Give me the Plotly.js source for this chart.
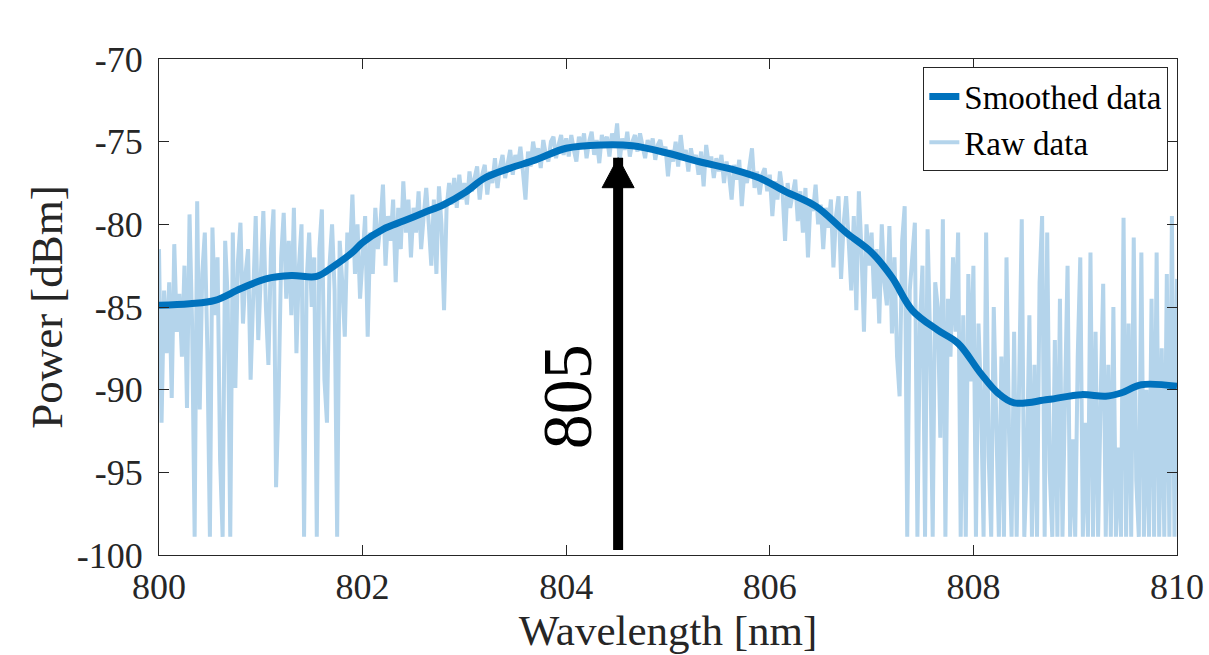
<!DOCTYPE html>
<html>
<head>
<meta charset="utf-8">
<script src="https://cdn.plot.ly/plotly-3.0.1.min.js"></script>
<style>html,body{margin:0;padding:0;background:#fff;}#chart{width:1209px;height:655px;}</style>
</head>
<body>
<div id="chart"></div>
<script>
// Raw spectrum, sampled every 0.025 nm starting at 800 nm
const rawStart = 800;
const rawStep = 0.025;
const raw800 = [-81.5,-92.0,-84.0,-87.8,-83.5,-90.5,-81.2,-86.5,-84.2,-88.0,-82.5,-91.1,-79.4,-86.0,-98.9,-78.6,-91.2,-83.0,-80.5,-87.5,-98.9,-80.2,-85.5,-82.0,-94.2,-98.9,-81.0,-84.5,-98.9,-80.5,-89.9,-82.3,-79.9,-86.0,-83.0,-81.5,-89.4,-85.0,-79.5,-87.0];
const raw801 = [-82.5,-79.2,-85.0,-88.5,-81.5,-79.1,-95.9,-90.4,-82.0,-79.3,-84.5,-81.0,-85.5,-79.0,-87.8,-82.5,-80.0,-98.9,-83.5,-80.5,-85.0,-82.0,-98.9,-81.5,-79.1,-89.4,-92.0,-82.5,-80.0,-84.0,-98.9,-81.0,-83.5,-86.8,-80.5,-82.0,-78.2,-83.0,-80.0,-84.5];
const raw802 = [-82.0,-79.5,-86.8,-80.5,-83.0,-79.0,-81.5,-80.0,-77.6,-82.5,-79.5,-81.0,-78.5,-83.5,-79.0,-81.5,-77.4,-80.5,-78.5,-82.0,-79.0,-80.5,-78.0,-81.5,-79.5,-77.8,-80.0,-82.5,-78.5,-83.0,-77.7,-80.0,-85.2,-79.0,-77.5,-78.8,-77.2,-79.0,-77.0,-78.5];
const raw803 = [-77.5,-78.8,-76.8,-78.0,-77.2,-76.5,-78.5,-77.0,-76.4,-78.2,-76.8,-77.5,-76.0,-77.8,-76.5,-75.8,-77.2,-76.2,-75.5,-77.0,-75.8,-76.5,-75.3,-76.8,-78.5,-75.6,-76.5,-75.0,-76.0,-75.4,-76.6,-74.9,-75.8,-76.2,-75.0,-74.7,-76.0,-75.2,-74.6,-75.8];
const raw804 = [-74.8,-75.9,-74.6,-75.5,-76.2,-74.7,-75.4,-74.5,-76.0,-75.0,-74.4,-75.8,-74.9,-76.3,-74.6,-75.2,-74.7,-75.9,-74.5,-75.3,-73.9,-76.2,-74.8,-75.5,-74.4,-75.9,-75.0,-74.6,-75.6,-74.5,-75.3,-76.0,-74.9,-75.5,-74.8,-76.1,-75.2,-74.9,-75.8,-75.3];
const raw805 = [-77.1,-75.5,-76.2,-75.0,-76.5,-74.6,-76.0,-75.5,-76.8,-75.4,-76.3,-75.8,-77.0,-75.6,-77.7,-75.2,-76.4,-75.9,-77.2,-76.0,-76.8,-75.8,-77.5,-76.2,-77.0,-78.5,-76.4,-77.3,-76.1,-78.9,-76.8,-77.5,-76.5,-75.4,-77.8,-76.8,-78.2,-77.0,-76.6,-78.0];
const raw806 = [-77.0,-79.5,-77.4,-78.5,-76.8,-78.0,-81.0,-77.5,-79.0,-78.2,-77.3,-79.8,-78.0,-80.5,-77.8,-82.0,-78.5,-79.2,-77.6,-80.0,-78.8,-81.5,-79.0,-80.2,-78.5,-82.6,-79.5,-78.3,-83.3,-80.0,-78.3,-81.0,-84.0,-79.5,-85.2,-78.0,-81.5,-86.5,-80.0,-82.5];
const raw807 = [-80.5,-84.5,-81.5,-86.0,-80.0,-83.5,-84.9,-80.1,-86.6,-82.0,-88.0,-90.4,-81.0,-78.9,-98.9,-84.0,-81.5,-79.9,-98.9,-86.0,-82.5,-98.9,-80.3,-87.0,-98.9,-83.5,-85.0,-92.9,-79.7,-98.9,-84.5,-88.0,-82.0,-86.5,-80.5,-98.9,-85.5,-98.9,-83.0,-89.5];
const raw808 = [-82.5,-98.9,-86.0,-90.5,-98.9,-80.5,-94.0,-98.9,-85.0,-92.0,-98.9,-88.0,-98.9,-82.0,-92.6,-98.9,-86.5,-98.9,-90.0,-79.7,-98.9,-94.5,-85.5,-98.9,-88.5,-98.9,-83.5,-79.5,-98.9,-80.5,-95.0,-98.9,-87.0,-98.9,-84.5,-98.9,-90.5,-82.5,-98.9,-93.0];
const raw809 = [-98.9,-88.0,-82.0,-98.9,-92.0,-98.9,-81.7,-98.9,-86.5,-98.9,-90.6,-83.6,-98.9,-88.5,-98.9,-85.0,-98.9,-93.5,-98.9,-79.6,-98.9,-86.0,-98.9,-80.8,-95.5,-98.9,-81.7,-98.9,-90.0,-98.9,-84.5,-98.9,-81.7,-98.9,-87.5,-98.9,-83.0,-98.9,-79.5,-98.9,-83.3];
const rawPower = [].concat(raw800, raw801, raw802, raw803, raw804, raw805, raw806, raw807, raw808, raw809);

// Smoothed spectrum
const smoothWl = [800.0,800.3,800.55,800.8,801.05,801.3,801.55,801.7,801.9,802.0,802.2,802.4,802.6,802.8,803.0,803.2,803.45,803.7,804.0,804.35,804.65,805.0,805.3,805.65,805.9,806.15,806.45,806.75,807.0,807.2,807.4,807.65,807.85,808.07,808.24,808.4,808.73,809.06,809.3,809.45,809.65,810.0];
const smoothPow = [-84.9,-84.8,-84.6,-83.9,-83.3,-83.1,-83.15,-82.6,-81.7,-81.1,-80.3,-79.8,-79.3,-78.8,-78.1,-77.2,-76.6,-76.1,-75.4,-75.2,-75.25,-75.7,-76.2,-76.7,-77.2,-78.0,-78.9,-80.5,-81.7,-83.2,-85.2,-86.4,-87.2,-89.0,-90.2,-90.8,-90.6,-90.3,-90.4,-90.2,-89.7,-89.8];

// Ticks
const xTicks = [800, 802, 804, 806, 808, 810];
const xTickText = ['800', '802', '804', '806', '808', '810'];
const yTicks = [-100, -95, -90, -85, -80, -75, -70];
const yTickText = ['-100', '-95', '-90', '-85', '-80', '-75', '-70'];

// Peak marker
const peakWl = 804.51;
const peakTip = -75.97;
const peakBase = -99.7;
const peakLabel = '805';

const serif = 'Liberation Serif';
const ink = '#262626';

const smoothTrace = {x: smoothWl, y: smoothPow, type: 'scatter', mode: 'lines', name: 'Smoothed data',
   legendrank: 1, line: {color: '#0072bd', width: 7, shape: 'spline', smoothing: 1.0}};
const rawTrace = {x0: rawStart, dx: rawStep, y: rawPower, type: 'scatter', mode: 'lines', name: 'Raw data',
   legendrank: 2, line: {color: '#b4d4eb', width: 4}};
const data = [rawTrace, smoothTrace];

const layout = {
  width: 1209, height: 655,
  margin: {l: 159, r: 32, t: 59, b: 100},
  paper_bgcolor: '#ffffff', plot_bgcolor: '#ffffff',
  font: {family: serif},
  showlegend: true,
  legend: {x: 0.9915, xanchor: 'right', y: 0.983, yanchor: 'top',
    bgcolor: '#ffffff', bordercolor: ink, borderwidth: 1,
    font: {family: serif, size: 33, color: '#000'}, tracegroupgap: 0,
    itemwidth: 30, traceorder: 'normal'},
  xaxis: {range: [800, 810], tickvals: xTicks, ticktext: xTickText,
    ticks: 'inside', ticklen: 10, tickwidth: 1, tickcolor: ink,
    showline: true, linecolor: ink, linewidth: 1, mirror: 'ticks',
    showgrid: false, zeroline: false, ticklabelstandoff: 0,
    tickfont: {family: serif, size: 36, color: ink},
    title: {text: 'Wavelength [nm]', standoff: 4, font: {family: serif, size: 43, color: ink}}},
  yaxis: {range: [-100, -70], tickvals: yTicks, ticktext: yTickText,
    ticks: 'inside', ticklen: 10, tickwidth: 1, tickcolor: ink,
    showline: true, linecolor: ink, linewidth: 1, mirror: 'ticks',
    showgrid: false, zeroline: false, ticklabelstandoff: 8,
    tickfont: {family: serif, size: 36, color: ink},
    title: {text: 'Power [dBm]', standoff: 0, font: {family: serif, size: 45, color: ink}}},
  shapes: [
    {type: 'line', xref: 'x', yref: 'y', x0: peakWl, x1: peakWl, y0: peakBase, y1: peakTip,
     line: {color: '#000', width: 10}, layer: 'above'},
    {type: 'path', xref: 'x', yref: 'y', xsizemode: 'pixel', ysizemode: 'pixel',
     xanchor: peakWl, yanchor: peakTip, path: 'M-16,-30 L16,-30 L0,0 Z',
     fillcolor: '#000', line: {color: '#000', width: 1}, layer: 'above'}
  ],
  annotations: [
    {x: 804.01, y: -90.45, xref: 'x', yref: 'y', text: peakLabel, showarrow: false,
     textangle: -90, font: {family: serif, size: 70, color: '#000'}}
  ]
};

Plotly.newPlot('chart', data, layout, {displayModeBar: false, staticPlot: true});
</script>
</body>
</html>
